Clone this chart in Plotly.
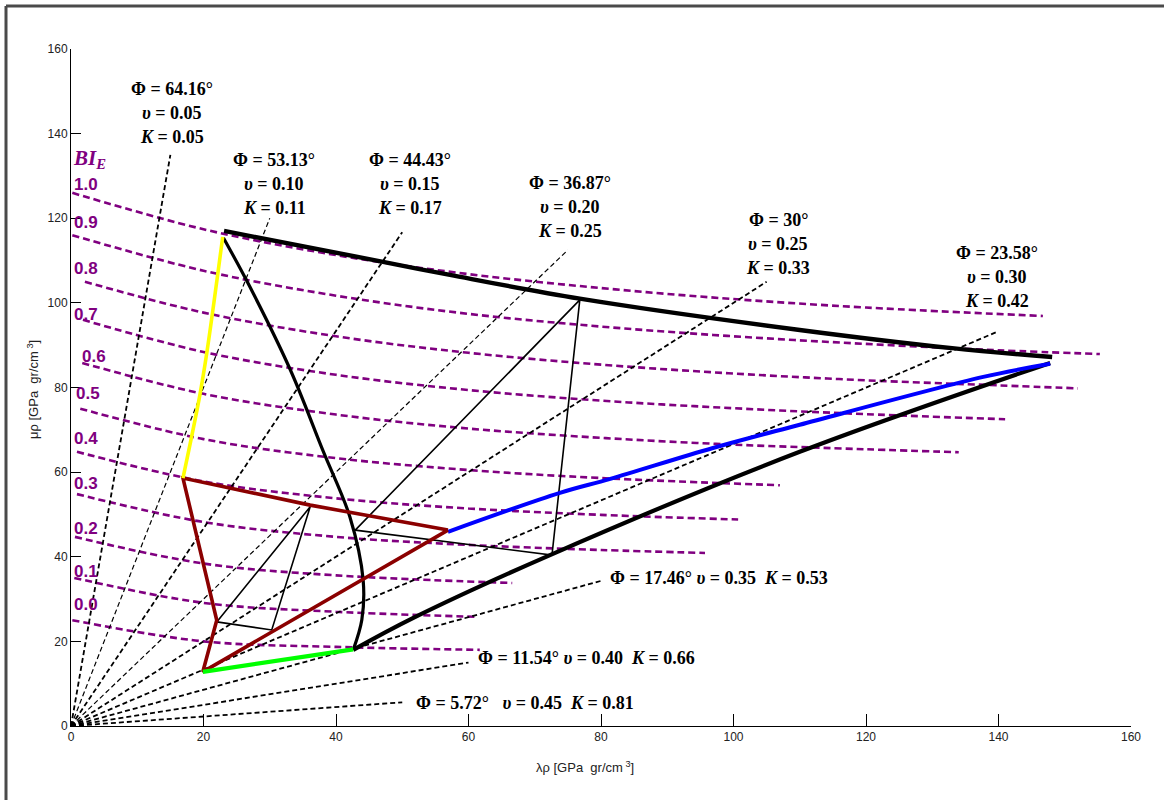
import plotly.graph_objects as go

# ---------------- data ----------------
# Poisson-ratio (constant nu) rays from the origin: end points (lambda*rho, mu*rho)
nu_labels = ["0.05", "0.10", "0.15", "0.20", "0.25", "0.30", "0.35", "0.40", "0.45"]
phi_labels = ["64.16", "53.13", "44.43", "36.87", "30", "23.58", "17.46", "11.54", "5.72"]
k_labels = ["0.05", "0.11", "0.17", "0.25", "0.33", "0.42", "0.53", "0.66", "0.81"]
ray_end_lr = [15, 30, 50, 75, 105, 140, 80, 60, 50]
ray_end_mr = [135, 120, 116.7, 112.5, 105, 93.3, 34.3, 15, 5.6]

# BI_E contour lines (purple dashed)
bi_labels = ["1.0", "0.9", "0.8", "0.7", "0.6", "0.5", "0.4", "0.3", "0.2", "0.1", "0.0"]
bi_lr = [
    [0.2, 20, 40, 60, 80, 100, 120, 146.7],
    [0.2, 20, 40, 60, 80, 100, 120, 140, 155.3],
    [2.1, 20, 40, 60, 80, 100, 120, 140, 152],
    [1.8, 20, 40, 60, 80, 100, 120, 141],
    [1.7, 20, 40, 60, 80, 100, 120, 134],
    [1.4, 20, 40, 60, 80, 107],
    [0.9, 20, 40, 60, 80, 100.7],
    [0.9, 20, 40, 60, 80, 95.7],
    [0.6, 20, 40, 66.6],
    [0.5, 20, 40, 61.3],
    [0.2, 20, 40, 61.7],
]
bi_mr = [
    [126, 117.4, 111.3, 106.8, 103.5, 100.9, 98.9, 96.9],
    [116, 107.6, 101.7, 97.4, 94.4, 92.1, 90.3, 88.8, 87.9],
    [105, 97.7, 92.1, 88.2, 85.4, 83.3, 81.7, 80.5, 79.8],
    [96, 88.4, 83.0, 79.4, 76.9, 75.1, 73.7, 72.5],
    [85.8, 78.5, 73.6, 70.3, 68.1, 66.5, 65.4, 64.7],
    [75, 67.8, 63.3, 60.5, 58.6, 56.9],
    [64.8, 57.8, 53.8, 51.4, 49.9, 48.8],
    [54.8, 48.2, 44.7, 42.8, 41.6, 40.9],
    [44.7, 38.4, 35.6, 33.8],
    [35, 29.1, 27.0, 25.8],
    [25, 20, 18.7, 18],
]

# template lines
top_lr = [23.1, 47.1, 57.2, 76.8, 110, 133, 148.1]
top_mr = [117, 109.7, 106.6, 101, 93.6, 89.3, 87.2]
curve_lr = [23, 27, 33.1, 38, 42.1, 44.1, 43.9, 42.6]
curve_mr = [115.4, 103.8, 84.2, 65.2, 49.4, 34.5, 25.1, 18]
bottom_lr = [42.6, 51.6, 72.3, 110, 147.8]
bottom_mr = [18, 25.5, 40.4, 64.8, 85.8]
blue_lr = [56.9, 73.8, 81.4, 96.9, 110, 137.7, 147.8]
blue_mr = [45.9, 55.1, 58.4, 65.7, 71.2, 82.5, 85.6]
red_lr = [56.9, 36.1, 16.9, 22, 19.9, 56.9]
red_mr = [46.3, 52.2, 58.6, 25, 12.8, 46.3]
yellow_lr = [16.9, 19.4, 20.5, 22.9]
yellow_mr = [58.6, 77.8, 88.2, 115.6]
green_lr = [19.9, 42.6]
green_mr = [12.8, 18.1]
tri_a_lr = [76.8, 42.9, 72.6, 76.8]
tri_a_mr = [100.7, 46.3, 40.4, 100.7]
tri_b_lr = [36.1, 22, 30.3, 36.1]
tri_b_mr = [51.8, 24.6, 22.7, 51.8]

x_ticks = [0, 20, 40, 60, 80, 100, 120, 140, 160]
y_ticks = [0, 20, 40, 60, 80, 100, 120, 140, 160]

# ---------------- figure ----------------
W, H = 1164, 800
ML, MR, MT, MB = 71, 33, 49, 74
PW, PH = W - ML - MR, H - MT - MB


def px2paper(px, py):
    return (px - ML) / PW, (H - MB - py) / PH


PURPLE = "#800080"
fig = go.Figure()

for xs, ys in zip(bi_lr, bi_mr):
    fig.add_trace(go.Scatter(x=xs, y=ys, mode="lines", line_shape="spline",
                             line=dict(color=PURPLE, width=2.6, dash="7px,4px"),
                             hoverinfo="skip", showlegend=False))

for i, (ex, ey) in enumerate(zip(ray_end_lr, ray_end_mr)):
    w = 1.2 if i in (1, 3) else 1.8
    fig.add_trace(go.Scatter(x=[0, ex], y=[0, ey], mode="lines",
                             line=dict(color="black", width=w, dash="5px,3px"),
                             hoverinfo="skip", showlegend=False))


def add_line(xs, ys, color, width, shape="spline"):
    fig.add_trace(go.Scatter(x=xs, y=ys, mode="lines", line_shape=shape,
                             line=dict(color=color, width=width),
                             hoverinfo="skip", showlegend=False))


add_line(tri_a_lr, tri_a_mr, "black", 1.6, "linear")
add_line(tri_b_lr, tri_b_mr, "black", 1.6, "linear")
add_line(top_lr, top_mr, "black", 4.4)
add_line(curve_lr, curve_mr, "black", 3.2)
add_line(bottom_lr, bottom_mr, "black", 4.2)
add_line(blue_lr, blue_mr, "#0000FF", 4)
add_line(red_lr, red_mr, "#8B0000", 3.6, "linear")
add_line(yellow_lr, yellow_mr, "#FFFF00", 3.6)
add_line(green_lr, green_mr, "#00FF00", 4.2, "linear")

ann = []
LBL = dict(family="Liberation Serif", size=18, color="black")

# stacked labels for first six rays
group_pos = [(172, 89), (274, 160), (410, 160), (570, 183), (778, 220), (997, 253)]
for i, (cx, cy) in enumerate(group_pos):
    lines = [f"<b>Φ = {phi_labels[i]}°</b>",
             f"<b><i>υ</i> = {nu_labels[i]}</b>",
             f"<b><i>K</i> = {k_labels[i]}</b>"]
    for j, t in enumerate(lines):
        x, y = px2paper(cx, cy + 24 * j)
        ann.append(dict(x=x, y=y, xref="paper", yref="paper", text=t, showarrow=False,
                        xanchor="center", yanchor="middle", font=LBL))

inline_pos = [(608, 578), (476, 658), (414, 703)]
for k, (lx, ly) in enumerate(inline_pos):
    i = 6 + k
    sp = "  " if i == 8 else ""
    t = (f"<b>Φ = {phi_labels[i]}°{sp} <i>υ</i> = {nu_labels[i]}  <i>K</i> = {k_labels[i]}</b>")
    x, y = px2paper(lx, ly)
    ann.append(dict(x=x, y=y, xref="paper", yref="paper", text=t, showarrow=False,
                    xanchor="left", yanchor="middle", font=LBL))

# BI_E labels
bi_pos_y = [185, 222, 268, 315, 357, 393, 438, 483, 528, 571, 604]
bi_pos_x = [72, 72, 72, 72, 80, 74, 72, 72, 72, 72, 72]
for lab, bx, by in zip(bi_labels, bi_pos_x, bi_pos_y):
    x, y = px2paper(bx, by)
    ann.append(dict(x=x, y=y, xref="paper", yref="paper", text=f"<b>{lab}</b>",
                    showarrow=False, xanchor="left", yanchor="middle",
                    font=dict(family="Liberation Sans", size=17, color=PURPLE)))
x, y = px2paper(71, 159)
ann.append(dict(x=x, y=y, xref="paper", yref="paper",
                text="<b><i>BI</i></b><sub><b><i>E</i></b></sub>", showarrow=False,
                xanchor="left", yanchor="middle",
                font=dict(family="Liberation Serif", size=21, color=PURPLE)))

# axis titles
x, y = px2paper(33, 390)
ann.append(dict(x=x, y=y, xref="paper", yref="paper",
                text="μρ [GPa  gr/cm<sup> 3</sup>]", showarrow=False, textangle=-90,
                xanchor="center", yanchor="middle",
                font=dict(family="Liberation Sans", size=13, color="#222")))
x, y = px2paper(585, 767)
ann.append(dict(x=x, y=y, xref="paper", yref="paper",
                text="λρ [GPa  gr/cm<sup> 3</sup>]", showarrow=False,
                xanchor="center", yanchor="middle",
                font=dict(family="Liberation Sans", size=13, color="#222")))

# outer frame (top and left edges)
fl, ft = px2paper(6, 6)
fr, fb = px2paper(W, H)
shapes = [
    dict(type="line", xref="paper", yref="paper", x0=fl, x1=fl, y0=ft, y1=fb,
         line=dict(color="#4a4a4a", width=3)),
    dict(type="line", xref="paper", yref="paper", x0=fl, x1=fr, y0=ft, y1=ft,
         line=dict(color="#4a4a4a", width=3)),
]

axis_common = dict(range=[0, 160], showgrid=False, zeroline=False, showline=True,
                   linecolor="black", linewidth=1, ticks="inside", tickcolor="black",
                   tickfont=dict(family="Liberation Sans", size=12, color="#222"),
                   mirror=False, fixedrange=True)

fig.update_layout(
    width=W, height=H, autosize=False,
    margin=dict(l=ML, r=MR, t=MT, b=MB),
    paper_bgcolor="white", plot_bgcolor="white",
    xaxis=dict(axis_common, tickvals=x_ticks, ticklen=12),
    yaxis=dict(axis_common, tickvals=y_ticks, ticklen=10),
    annotations=ann, shapes=shapes,
)

fig.write_html("out.html", config={"displayModeBar": False},
               post_script="document.body.style.margin='0';")
